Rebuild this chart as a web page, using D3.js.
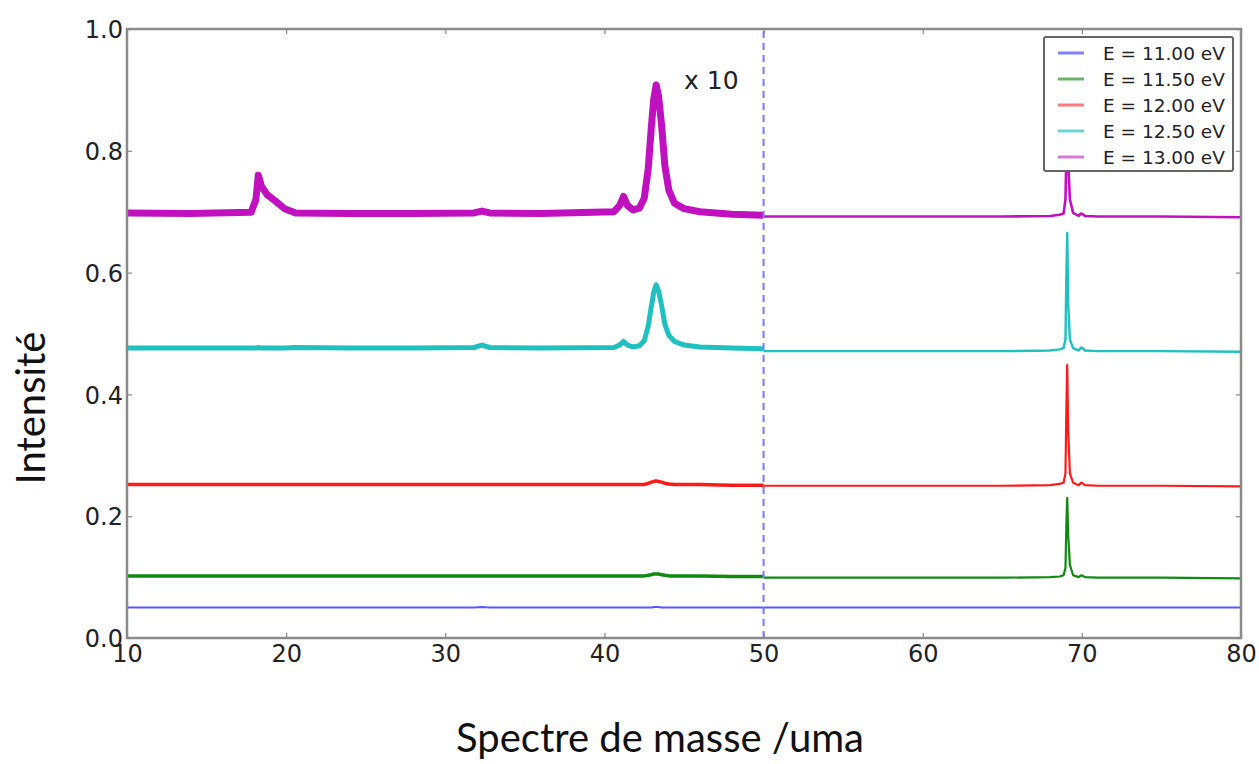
<!DOCTYPE html>
<html>
<head>
<meta charset="utf-8">
<script src="https://cdn.jsdelivr.net/npm/d3@7"></script>
<style>
  html, body { margin: 0; padding: 0; background: #fff; }
  svg { display: block; }
</style>
</head>
<body>
<svg id="chart" width="1259" height="764"></svg>
<script>
// ---------- DATA ----------
const seriesNames = ["E = 11.00 eV", "E = 11.50 eV", "E = 12.00 eV", "E = 12.50 eV", "E = 13.00 eV"];

// left part (x 10 zoomed region), masses in uma
const massLeft = [10, 14, 17.8, 18.1, 18.25, 18.45, 18.8, 19.3, 19.9, 20.6, 24, 28, 31.8, 32.3, 32.8, 36,
  40.6, 40.95, 41.2, 41.45, 41.8, 42.2, 42.5, 42.75, 42.95, 43.1, 43.25, 43.4, 43.6, 43.8, 44.05, 44.4, 45, 46, 48, 50];

const e1100Left = [0.050, 0.050, 0.050, 0.050, 0.050, 0.050, 0.050, 0.050, 0.050, 0.050, 0.050, 0.050, 0.050, 0.051, 0.050, 0.050,
  0.050, 0.050, 0.050, 0.050, 0.050, 0.050, 0.050, 0.050, 0.050, 0.051, 0.051, 0.051, 0.050, 0.050, 0.050, 0.050, 0.050, 0.050, 0.050, 0.050];
const e1150Left = [0.102, 0.102, 0.102, 0.102, 0.102, 0.102, 0.102, 0.102, 0.102, 0.102, 0.102, 0.102, 0.102, 0.102, 0.102, 0.102,
  0.102, 0.102, 0.102, 0.102, 0.102, 0.102, 0.102, 0.103, 0.104, 0.105, 0.105, 0.105, 0.104, 0.103, 0.102, 0.102, 0.102, 0.102, 0.101, 0.101];
const e1200Left = [0.252, 0.252, 0.252, 0.252, 0.252, 0.252, 0.252, 0.252, 0.252, 0.252, 0.252, 0.252, 0.252, 0.252, 0.252, 0.252,
  0.252, 0.252, 0.252, 0.252, 0.252, 0.252, 0.252, 0.254, 0.256, 0.257, 0.258, 0.257, 0.256, 0.254, 0.253, 0.252, 0.252, 0.252, 0.251, 0.251];
const e1250Left = [0.476, 0.476, 0.476, 0.476, 0.477, 0.476, 0.476, 0.476, 0.476, 0.477, 0.476, 0.476, 0.477, 0.481, 0.477, 0.476,
  0.477, 0.481, 0.487, 0.481, 0.478, 0.480, 0.488, 0.512, 0.545, 0.568, 0.580, 0.570, 0.545, 0.515, 0.497, 0.487, 0.481, 0.478, 0.476, 0.475];
const e1300Left = [0.698, 0.697, 0.699, 0.720, 0.760, 0.742, 0.728, 0.718, 0.705, 0.698, 0.697, 0.697, 0.698, 0.701, 0.698, 0.697,
  0.700, 0.710, 0.725, 0.710, 0.703, 0.706, 0.722, 0.770, 0.840, 0.885, 0.908, 0.890, 0.840, 0.775, 0.735, 0.714, 0.705, 0.700, 0.696, 0.694];

// right part (unscaled region)
const massRight = [50, 55, 60, 65, 68, 68.6, 68.85, 68.97, 69.03, 69.08, 69.14, 69.25, 69.45, 69.8, 69.95, 70.05, 70.2, 71, 75, 80];

const e1100Right = [0.050, 0.050, 0.050, 0.050, 0.050, 0.050, 0.050, 0.050, 0.050, 0.050, 0.050, 0.050, 0.050, 0.050, 0.050, 0.050, 0.050, 0.050, 0.050, 0.050];
const e1150Right = [0.099, 0.099, 0.099, 0.099, 0.100, 0.101, 0.103, 0.115, 0.190, 0.230, 0.170, 0.120, 0.103, 0.100, 0.103, 0.102, 0.100, 0.099, 0.099, 0.098];
const e1200Right = [0.250, 0.250, 0.250, 0.250, 0.251, 0.253, 0.255, 0.270, 0.380, 0.448, 0.340, 0.270, 0.255, 0.251, 0.255, 0.254, 0.251, 0.250, 0.250, 0.249];
const e1250Right = [0.471, 0.471, 0.471, 0.471, 0.472, 0.474, 0.476, 0.490, 0.600, 0.665, 0.550, 0.490, 0.476, 0.472, 0.477, 0.476, 0.472, 0.471, 0.471, 0.470];
const e1300Right = [0.692, 0.692, 0.692, 0.692, 0.693, 0.695, 0.697, 0.720, 0.800, 0.880, 0.780, 0.720, 0.698, 0.693, 0.697, 0.696, 0.693, 0.692, 0.692, 0.691];

const xTicks = [10, 20, 30, 40, 50, 60, 70, 80];
const yTicks = [0.0, 0.2, 0.4, 0.6, 0.8, 1.0];
const splitMass = 50;
const zoomLabel = "x 10";
const xTitle = "Spectre de masse /uma";
const yTitle = "Intensité";

// ---------- STYLE ----------
const colors = ["#3a3aff", "#108a10", "#ff1a1a", "#1ec0c0", "#c010c0"];
const legendColors = ["#7f7fff", "#6ab46a", "#ff7a7a", "#6cd6d6", "#d878d8"];
const leftWidths = [2, 3.5, 3.5, 5, 7];
const rightWidths = [2, 2.2, 2.2, 2.4, 2.6];

const leftData = [e1100Left, e1150Left, e1200Left, e1250Left, e1300Left];
const rightData = [e1100Right, e1150Right, e1200Right, e1250Right, e1300Right];

const svg = d3.select("#chart");
const margin = { left: 127, right: 1259 - 1241, top: 29, bottom: 764 - 638 };
const W = 1259, H = 764;

const x = d3.scaleLinear().domain([10, 80]).range([margin.left, W - margin.right]);
const y = d3.scaleLinear().domain([0, 1]).range([H - margin.bottom, margin.top]);

svg.append("defs").append("clipPath").attr("id", "clip")
  .append("rect").attr("x", x(10)).attr("y", y(1)).attr("width", x(80) - x(10)).attr("height", y(0) - y(1));

const plot = svg.append("g").attr("clip-path", "url(#clip)");
const line = d3.line().x(d => x(d[0])).y(d => y(d[1]));

seriesNames.forEach((name, i) => {
  const ptsL = massLeft.map((m, k) => [m, leftData[i][k]]);
  const ptsR = massRight.map((m, k) => [m, rightData[i][k]]);
  plot.append("path").datum(ptsL).attr("d", line)
    .attr("fill", "none").attr("stroke", colors[i]).attr("stroke-width", leftWidths[i])
    .attr("stroke-linejoin", "round").attr("opacity", i === 0 ? 0.85 : 1);
  plot.append("path").datum(ptsR).attr("d", line)
    .attr("fill", "none").attr("stroke", colors[i]).attr("stroke-width", rightWidths[i])
    .attr("stroke-linejoin", "round").attr("opacity", i === 0 ? 0.85 : 1);
});

// dashed separator
svg.append("line")
  .attr("x1", x(splitMass)).attr("x2", x(splitMass))
  .attr("y1", y(0)).attr("y2", y(1))
  .attr("stroke", "#7878ff").attr("stroke-width", 2).attr("stroke-dasharray", "7,5");

// "x 10" label
svg.append("text").attr("x", x(45)).attr("y", y(0.913))
  .attr("dominant-baseline", "middle")
  .attr("font-family", "DejaVu Sans").attr("font-size", 25).attr("fill", "#222")
  .text(zoomLabel);

// axes frame
const frameColor = "#8a8a8a";
svg.append("rect").attr("x", x(10)).attr("y", y(1))
  .attr("width", x(80) - x(10)).attr("height", y(0) - y(1))
  .attr("fill", "none").attr("stroke", frameColor).attr("stroke-width", 2.5);

// ticks (inward) using d3 axes
const xAxisB = d3.axisBottom(x).tickValues(xTicks).tickSize(-5).tickFormat(d3.format("d"));
const gx = svg.append("g").attr("transform", `translate(0,${y(0)})`).call(xAxisB);
gx.select(".domain").remove();
gx.selectAll(".tick line").attr("stroke", frameColor).attr("stroke-width", 1.2);
gx.selectAll(".tick text").attr("font-family", "DejaVu Sans").attr("font-size", 24)
  .attr("fill", "#222").attr("y", 4).attr("dy", "0.85em");

const xAxisT = d3.axisTop(x).tickValues(xTicks).tickSize(-5).tickFormat("");
const gxt = svg.append("g").attr("transform", `translate(0,${y(1)})`).call(xAxisT);
gxt.select(".domain").remove();
gxt.selectAll(".tick line").attr("stroke", frameColor).attr("stroke-width", 1.2);

const yAxisL = d3.axisLeft(y).tickValues(yTicks).tickSize(-5).tickFormat(d3.format(".1f"));
const gy = svg.append("g").attr("transform", `translate(${x(10)},0)`).call(yAxisL);
gy.select(".domain").remove();
gy.selectAll(".tick line").attr("stroke", frameColor).attr("stroke-width", 1.2);
gy.selectAll(".tick text").attr("font-family", "DejaVu Sans").attr("font-size", 24)
  .attr("fill", "#222").attr("x", -4).attr("dy", "0.36em");

const yAxisR = d3.axisRight(y).tickValues(yTicks).tickSize(-5).tickFormat("");
const gyr = svg.append("g").attr("transform", `translate(${x(80)},0)`).call(yAxisR);
gyr.select(".domain").remove();
gyr.selectAll(".tick line").attr("stroke", frameColor).attr("stroke-width", 1.2);

// axis titles
svg.append("text").attr("x", 660).attr("y", 752).attr("text-anchor", "middle")
  .attr("font-family", "Lato").attr("font-size", 40).attr("fill", "#111").text(xTitle);
svg.append("text").attr("transform", "translate(45,408) rotate(-90)").attr("text-anchor", "middle")
  .attr("font-family", "Lato").attr("font-size", 40).attr("fill", "#111").text(yTitle);

// legend
const lg = svg.append("g");
lg.append("rect").attr("x", 1044).attr("y", 37).attr("width", 189).attr("height", 134)
  .attr("rx", 2).attr("fill", "#fff").attr("stroke", "#666").attr("stroke-width", 2);
seriesNames.forEach((name, i) => {
  const cy = 53 + i * 26;
  lg.append("line").attr("x1", 1058).attr("x2", 1084).attr("y1", cy).attr("y2", cy)
    .attr("stroke", legendColors[i]).attr("stroke-width", 3);
  lg.append("text").attr("x", 1103).attr("y", cy).attr("dy", "0.36em")
    .attr("font-family", "DejaVu Sans").attr("font-size", 18.5).attr("fill", "#222").text(name);
});
</script>
</body>
</html>
